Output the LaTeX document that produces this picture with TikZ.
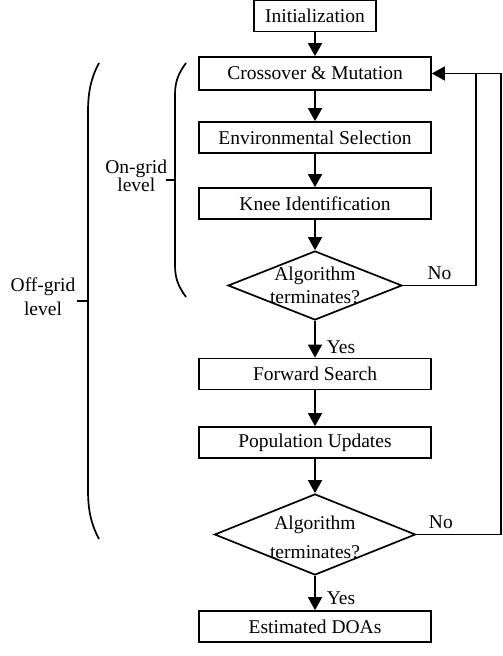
\documentclass[tikz,border=0pt]{standalone}
\usepackage{fontspec}
\setmainfont{Liberation Serif}
\usetikzlibrary{shapes.geometric,arrows.meta}
\begin{document}
\begin{tikzpicture}[x=0.5pt, y=-0.5pt, line width=0.85pt,
  txt/.style={inner sep=0pt, font=\fontsize{9.75}{11.5}\selectfont},
  stepbox/.style={txt, draw, minimum width=116pt, minimum height=15.5pt},
  decision/.style={draw, diamond, inner sep=0pt},
  arr/.style={-{Triangle[length=6.5pt,width=7pt]}}]
\useasboundingbox (0,0) rectangle (502,656);
% main column of steps, placed at pixel coordinates of the layout
\node[stepbox, minimum width=61pt] (init) at (315,16) {Initialization};
\node[stepbox, minimum height=16.5pt] (cross) at (315,73.5) {Crossover \& Mutation};
\node[stepbox] (envsel) at (315,137.5) {Environmental Selection};
\node[stepbox] (knee) at (315,203.5) {Knee Identification};
\node[decision, minimum width=87pt, minimum height=34.5pt,
  label={[txt, align=center]center:Algorithm\\terminates?}] (term1) at (315,285.5) {};
\node[stepbox] (fwd) at (315,374) {Forward Search};
\node[stepbox] (popup) at (315,442.5) {Population Updates};
\node[decision, minimum width=100.5pt, minimum height=40.5pt,
  label={[txt, align=center, yshift=-1.5pt, font=\fontsize{9.75}{14.5}\selectfont]center:Algorithm\\terminates?}] (term2) at (315,534.5) {};
\node[stepbox] (doas) at (315,626.5) {Estimated DOAs};
% downward flow
\draw[arr] (init) -- (cross);
\draw[arr] (cross) -- (envsel);
\draw[arr] (envsel) -- (knee);
\draw[arr] (knee) -- (term1);
\draw[arr] (term1) -- node[txt, pos=0.72, right=5.5pt] {Yes} (fwd);
\draw[arr] (fwd) -- (popup);
\draw[arr] (popup) -- (term2);
\draw[arr] (term2) -- node[txt, pos=0.65, right=5.5pt] {Yes} (doas);
% feedback loops on the right
\coordinate (loop1) at (476,285.5);
\coordinate (loop1top) at (476,73.5);
\coordinate (loop2) at (501,534.5);
\coordinate (loop2top) at (501,73.5);
\draw (term1.east) -- node[txt, above=2.5pt] {No} (loop1) -- (loop1top);
\draw[arr] (term2.east) -- node[txt, pos=0.29, above=2.5pt] {No} (loop2) -- (loop2top) -- (cross.east);
% grouping brackets on the left
\draw (186,63) .. controls (178,74) and (175,82) .. (175,95) -- (175,265)
  .. controls (175,278) and (178,286) .. (186,297);
\draw (166,180) -- (175,180);
\node[txt, align=center, anchor=east, font=\fontsize{9.75}{9}\selectfont] (ongrid) at (168,176) {On-grid\\level};
\draw (99,63) .. controls (91,78) and (88,92) .. (88,112) -- (88,490)
  .. controls (88,510) and (91,524) .. (99,539);
\draw (77,301) -- (88,301);
\node[txt, align=center, font=\fontsize{9.75}{12}\selectfont] (offgrid) at (43,297) {Off-grid\\level};
\end{tikzpicture}
\end{document}
